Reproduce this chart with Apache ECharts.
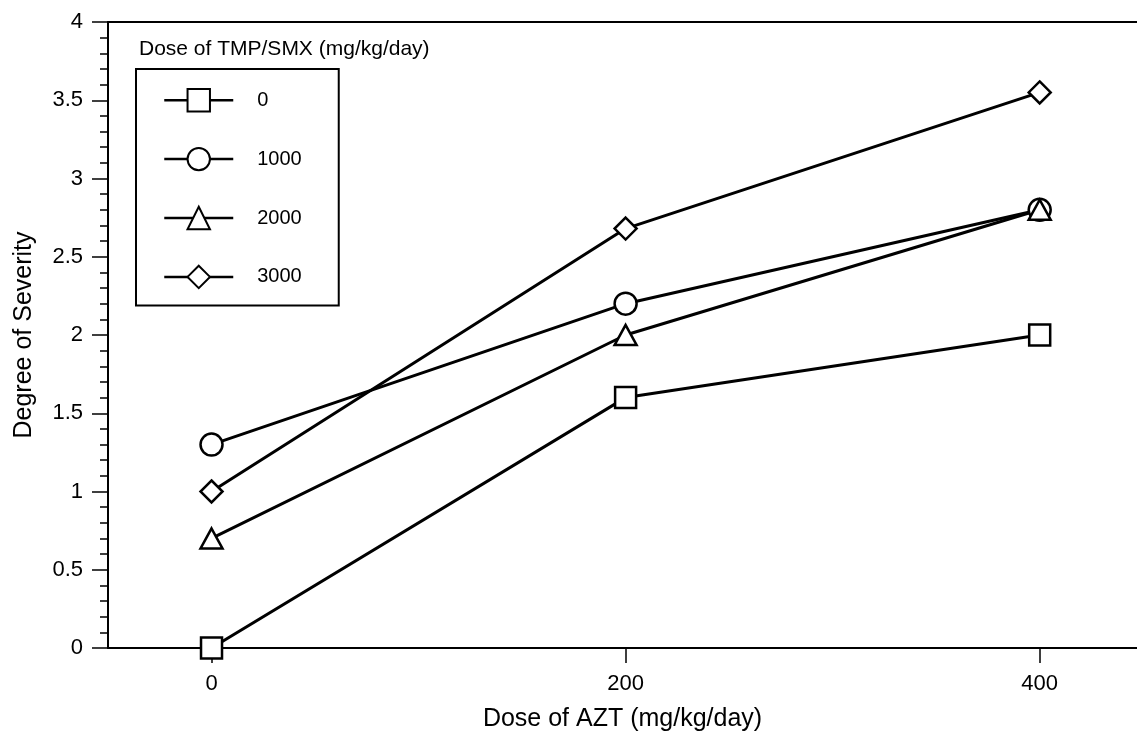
<!DOCTYPE html>
<html>
<head>
<meta charset="utf-8">
<script src="https://cdn.jsdelivr.net/npm/echarts@6/dist/echarts.min.js"></script>
<style>
  html, body { margin: 0; padding: 0; background: #fff; }
  #chart { width: 1137px; height: 731px; }
</style>
</head>
<body>
<div id="chart"></div>
<script>
// AZT dose on the x axis, severity score on the y axis
const aztDoses = [0, 200, 400];
const xTickValues = [0, 200, 400];

// one line per TMP/SMX dose (mg/kg/day)
const seriesNames = ['0', '1000', '2000', '3000'];
const severityTmp0 = [0, 1.6, 2.0];
const severityTmp1000 = [1.3, 2.2, 2.8];
const severityTmp2000 = [0.7, 2.0, 2.8];
const severityTmp3000 = [1.0, 2.68, 3.55];

const seriesValues = [severityTmp0, severityTmp1000, severityTmp2000, severityTmp3000];
const seriesSymbols = ['rect', 'circle', 'triangle', 'diamond'];
const seriesSymbolSizes = [21, 22, [22, 20], 22];

const FONT = 'Liberation Sans, Arial, Helvetica, sans-serif';
const INK = '#000';

const chart = echarts.init(document.getElementById('chart'), null, { renderer: 'canvas' });

const series = seriesNames.map((name, i) => ({
  name: name,
  type: 'line',
  data: aztDoses.map((d, j) => [d, seriesValues[i][j]]),
  symbol: seriesSymbols[i],
  symbolSize: seriesSymbolSizes[i],
  showAllSymbol: true,
  clip: false,
  animation: false,
  lineStyle: { color: INK, width: 3 },
  itemStyle: { color: '#fff', borderColor: INK, borderWidth: 2.5, opacity: 1 },
  emphasis: { disabled: true }
}));

chart.setOption({
  backgroundColor: '#fff',
  animation: false,
  title: {
    text: 'Dose of TMP/SMX (mg/kg/day)',
    left: 139,
    top: 39,
    padding: 0,
    textStyle: { fontFamily: FONT, fontSize: 21, fontWeight: 'normal', color: INK }
  },
  legend: {
    orient: 'vertical',
    left: 136,
    top: 69,
    data: seriesNames,
    itemWidth: 69,
    itemHeight: 28,
    itemGap: 34.5,
    padding: [19, 37, 16.5, 27],
    borderColor: INK,
    borderWidth: 2,
    borderRadius: 0,
    selectedMode: false,
    lineStyle: { width: 2.5 },
    textStyle: { fontFamily: FONT, fontSize: 20, color: INK, padding: [0, 0, 0, 19] }
  },
  grid: { left: 108, right: 0, top: 22, bottom: 83, containLabel: false, outerBoundsMode: 'none' },
  xAxis: [
    {
      type: 'value',
      position: 'bottom',
      min: -50,
      max: 447,
      name: 'Dose of AZT (mg/kg/day)',
      nameLocation: 'middle',
      nameGap: 59,
      nameTextStyle: { fontFamily: FONT, fontSize: 25, color: INK },
      axisLine: { show: true, onZero: false, lineStyle: { color: INK, width: 2 } },
      axisTick: { show: true, length: 15, customValues: xTickValues, lineStyle: { color: INK, width: 1.5 } },
      axisLabel: { show: true, customValues: xTickValues, margin: 25, fontFamily: FONT, fontSize: 22, color: INK },
      splitLine: { show: false }
    },
    {
      type: 'value',
      position: 'top',
      min: -50,
      max: 447,
      axisLine: { show: true, onZero: false, lineStyle: { color: INK, width: 2 } },
      axisTick: { show: false },
      axisLabel: { show: false },
      splitLine: { show: false }
    }
  ],
  yAxis: {
    type: 'value',
    min: 0,
    max: 4,
    interval: 0.5,
    name: 'Degree of Severity',
    nameLocation: 'middle',
    nameGap: 71,
    nameTextStyle: { fontFamily: FONT, fontSize: 25, color: INK },
    axisLine: { show: true, onZero: false, lineStyle: { color: INK, width: 2 } },
    axisTick: { show: true, length: 16, lineStyle: { color: INK, width: 1.5 } },
    minorTick: { show: true, splitNumber: 5, length: 8, lineStyle: { color: INK, width: 1.5 } },
    axisLabel: { margin: 25, fontFamily: FONT, fontSize: 22, color: INK },
    splitLine: { show: false },
    minorSplitLine: { show: false }
  },
  series: series
});
</script>
</body>
</html>
